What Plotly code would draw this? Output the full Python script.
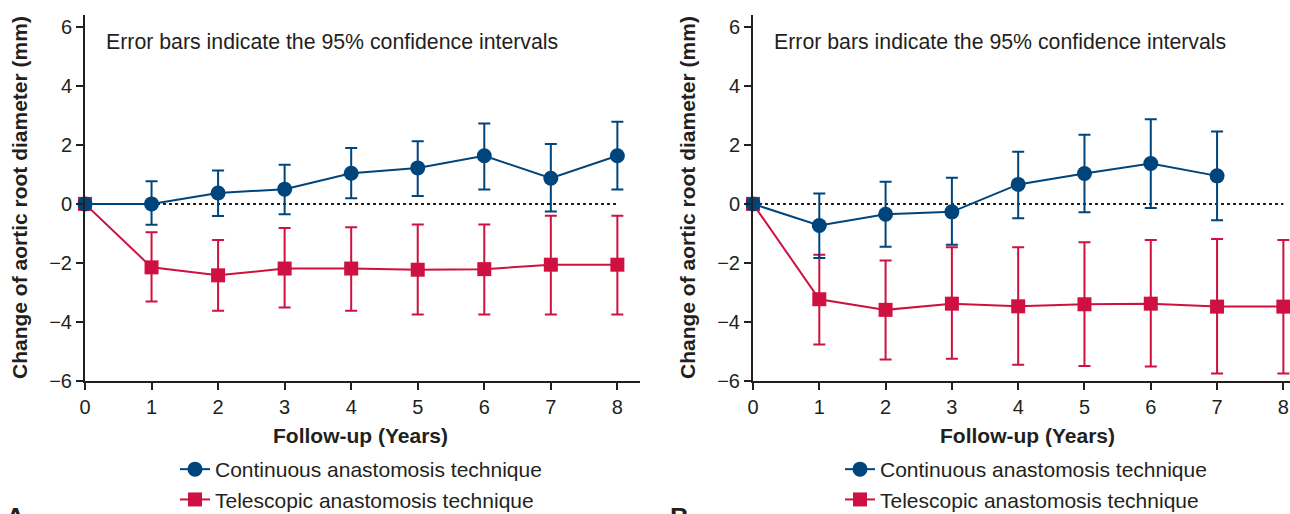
import plotly.graph_objects as go

W, H = 1290, 514
BLUE = "#00447C"
RED = "#CE1141"
FONT = "Liberation Sans, Arial, Helvetica, sans-serif"
TXT = "#231F20"

years = [0, 1, 2, 3, 4, 5, 6, 7, 8]
x_ticks = [0, 1, 2, 3, 4, 5, 6, 7, 8]
y_ticks = [-6, -4, -2, 0, 2, 4, 6]

# Panel A
a_cont = [0, 0.00, 0.37, 0.50, 1.04, 1.22, 1.63, 0.87, 1.63]
a_cont_lo = [0, -0.71, -0.41, -0.35, 0.19, 0.27, 0.49, -0.26, 0.49]
a_cont_hi = [0, 0.77, 1.13, 1.33, 1.89, 2.12, 2.72, 2.03, 2.78]
a_tele = [0, -2.15, -2.42, -2.19, -2.19, -2.23, -2.21, -2.06, -2.06]
a_tele_lo = [0, -3.31, -3.62, -3.51, -3.62, -3.75, -3.75, -3.75, -3.75]
a_tele_hi = [0, -0.96, -1.22, -0.82, -0.79, -0.70, -0.70, -0.40, -0.40]

# Panel B
b_years_cont = [0, 1, 2, 3, 4, 5, 6, 7]
b_cont = [0, -0.73, -0.35, -0.27, 0.66, 1.03, 1.37, 0.95]
b_cont_lo = [0, -1.83, -1.45, -1.38, -0.49, -0.28, -0.14, -0.55]
b_cont_hi = [0, 0.35, 0.75, 0.89, 1.77, 2.34, 2.87, 2.45]
b_tele = [0, -3.23, -3.59, -3.38, -3.47, -3.40, -3.38, -3.48, -3.48]
b_tele_lo = [0, -4.76, -5.27, -5.25, -5.45, -5.49, -5.51, -5.75, -5.75]
b_tele_hi = [0, -1.72, -1.92, -1.47, -1.47, -1.30, -1.22, -1.19, -1.22]

names = ["Continuous anastomosis technique", "Telescopic anastomosis technique"]
note = "Error bars indicate the 95% confidence intervals"
x_title = "Follow-up (Years)"
y_title = "Change of aortic root diameter (mm)"
panel_labels = ["A", "B"]


def px(x):
    return x / W


def py(y):
    return 1 - y / H


def err(v, lo, hi):
    return dict(type="data", symmetric=False,
                array=[h - m for m, h in zip(v, hi)],
                arrayminus=[m - l for m, l in zip(v, lo)],
                thickness=2, width=6)


fig = go.Figure()

panels = [
    dict(xa="x", ya="y", leg="legend", xs=years, cont=a_cont, clo=a_cont_lo, chi=a_cont_hi,
         ts=years, tele=a_tele, tlo=a_tele_lo, thi=a_tele_hi),
    dict(xa="x2", ya="y2", leg="legend2", xs=b_years_cont, cont=b_cont, clo=b_cont_lo, chi=b_cont_hi,
         ts=years, tele=b_tele, tlo=b_tele_lo, thi=b_tele_hi),
]

for p in panels:
    e = err(p["tele"], p["tlo"], p["thi"])
    e["color"] = RED
    fig.add_trace(go.Scatter(
        x=p["ts"], y=p["tele"], mode="lines+markers", name=names[1],
        line=dict(color=RED, width=2), marker=dict(symbol="square", size=14, color=RED),
        error_y=e, xaxis=p["xa"], yaxis=p["ya"], legend=p["leg"], legendrank=2,
        legendgroup="t" + p["leg"], cliponaxis=False))
    e = err(p["cont"], p["clo"], p["chi"])
    e["color"] = BLUE
    fig.add_trace(go.Scatter(
        x=p["xs"], y=p["cont"], mode="lines+markers", name=names[0],
        line=dict(color=BLUE, width=2), marker=dict(symbol="circle", size=15, color=BLUE),
        error_y=e, xaxis=p["xa"], yaxis=p["ya"], legend=p["leg"], legendrank=1,
        legendgroup="c" + p["leg"], cliponaxis=False))

ytop, ybot = 15, 381
FS = 21
axis_common = dict(showline=True, linecolor=TXT, linewidth=2, ticks="outside", ticklen=7,
                   tickwidth=2, tickcolor=TXT, showgrid=False, zeroline=False, automargin=False,
                   tickfont=dict(family=FONT, size=20, color=TXT))

fig.update_layout(
    width=W, height=H, margin=dict(l=0, r=0, t=0, b=0, autoexpand=False),
    paper_bgcolor="white", plot_bgcolor="white",
    font=dict(family=FONT, color=TXT),
    xaxis=dict(domain=[px(85), px(640)], range=[0, 8.34], tickvals=x_ticks, anchor="y", **axis_common),
    yaxis=dict(domain=[py(ybot), py(ytop)], range=[-6, 6.4], tickvals=y_ticks, anchor="x", **axis_common),
    xaxis2=dict(domain=[px(753), px(1290)], range=[0, 8.1], tickvals=x_ticks, anchor="y2", **axis_common),
    yaxis2=dict(domain=[py(ybot), py(ytop)], range=[-6, 6.4], tickvals=y_ticks, anchor="x2", **axis_common),
    legend=dict(x=px(175), y=py(449), xanchor="left", yanchor="top", traceorder="grouped",
                tracegroupgap=0, font=dict(family=FONT, size=FS, color=TXT), bgcolor="rgba(0,0,0,0)"),
    legend2=dict(x=px(840), y=py(449), xanchor="left", yanchor="top", traceorder="grouped",
                 tracegroupgap=0, font=dict(family=FONT, size=FS, color=TXT), bgcolor="rgba(0,0,0,0)"),
)

for xa, ya in [("x", "y"), ("x2", "y2")]:
    fig.add_shape(type="line", xref=xa, yref=ya, x0=0, x1=8, y0=0, y1=0,
                  line=dict(color=TXT, width=2, dash="dot"), layer="below")

for cx, lx, note_x in [(360, 20, 104), (1027, 688, 772)]:
    fig.add_annotation(x=px(cx), y=py(435), xref="paper", yref="paper", text="<b>%s</b>" % x_title,
                       xanchor="center", yanchor="middle",
                       showarrow=False, font=dict(family=FONT, size=FS, color=TXT))
    fig.add_annotation(x=px(lx), y=py(198), xref="paper", yref="paper", text="<b>%s</b>" % y_title,
                       xanchor="center", yanchor="middle",
                       textangle=-90, showarrow=False, font=dict(family=FONT, size=FS, color=TXT))
    fig.add_annotation(x=px(note_x), y=py(42), xref="paper", yref="paper", text=note,
                       xanchor="left", yanchor="middle",
                       showarrow=False, font=dict(family=FONT, size=21.3, color=TXT))

fig.add_annotation(x=px(4), y=py(500), xref="paper", yref="paper", text="<b>%s</b>" % panel_labels[0],
                   xanchor="left", yanchor="top", showarrow=False, font=dict(family=FONT, size=26, color=TXT))
fig.add_annotation(x=px(668), y=py(500), xref="paper", yref="paper", text="<b>%s</b>" % panel_labels[1],
                   xanchor="left", yanchor="top", showarrow=False, font=dict(family=FONT, size=26, color=TXT))

fig.write_html("out.html", config={"displayModeBar": False},
               post_script="document.body.style.margin='0';")
